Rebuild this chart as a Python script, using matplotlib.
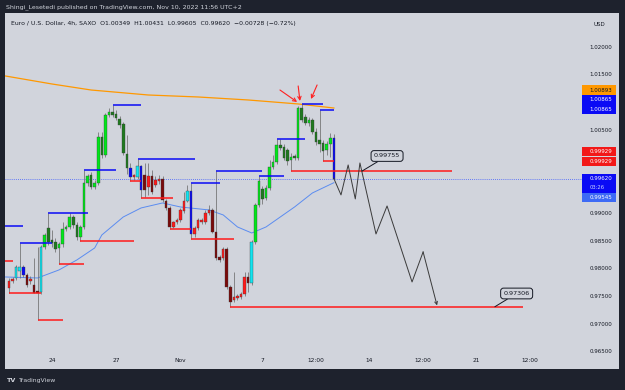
import numpy as np
import matplotlib
matplotlib.use("Agg")
import matplotlib.pyplot as plt
from matplotlib.patches import Rectangle

W, H = 625, 390
DARK = "#1e222d"
PANEL = "#d1d4dc"
INK = "#131722"

# EUR/USD 4h candles (SAXO), oldest first
opens = [0.97645, 0.97771, 0.97825, 0.97952, 0.98024, 0.97880, 0.97771, 0.97699, 0.97591, 0.97573,
         0.98385, 0.98728, 0.98511, 0.98475, 0.98367, 0.98439, 0.98710, 0.98746, 0.98926, 0.98782,
         0.98565, 0.98746, 0.99540, 0.99684, 0.99468, 0.99540, 1.00370, 1.00045, 1.00767, 1.00821,
         1.00785, 1.00695, 1.00605, 1.00063, 0.99811, 0.99648, 0.99648, 0.99847, 0.99684, 0.99468,
         0.99666, 0.99504, 0.99576, 0.99612, 0.99215, 0.99089, 0.98746, 0.98836, 0.98872, 0.99035,
         0.99215, 0.99396, 0.98619, 0.98728, 0.98836, 0.98836, 0.98999, 0.99053, 0.98655, 0.98204,
         0.98186, 0.98349, 0.97663, 0.97428, 0.97465, 0.97483, 0.97537, 0.97843, 0.97735, 0.98475,
         0.99143, 0.99432, 0.99270, 0.99450, 0.99829, 0.99919, 1.00226, 1.00190, 1.00136, 0.99955,
         1.00027, 0.99991, 1.00893, 1.00731, 1.00623, 1.00677, 1.00460, 1.00316, 1.00262, 1.00136,
         1.00244, 1.00349]
highs = [0.97825, 0.97843, 0.98060, 0.98457, 0.98060, 0.97916, 0.97862, 0.98186, 0.98385, 0.98421,
         0.98637, 0.98999, 0.98692, 0.98547, 0.98475, 0.98836, 0.98782, 0.98999, 0.98963, 0.98836,
         0.98782, 0.99775, 0.99703, 0.99739, 0.99594, 1.00460, 1.00460, 1.00803, 1.00893, 1.00948,
         1.00857, 1.00749, 1.00641, 1.00406, 0.99901, 0.99703, 0.99973, 0.99865, 0.99901, 0.99901,
         0.99775, 0.99666, 0.99684, 0.99666, 0.99252, 0.99125, 0.98854, 0.98908, 0.99089, 0.99378,
         0.99504, 0.99540, 0.98764, 0.98908, 0.98908, 0.99053, 0.99143, 0.99089, 0.99757, 0.98240,
         0.98385, 0.98385, 0.97699, 0.97934, 0.97537, 0.97573, 0.97934, 0.97934, 0.98511, 0.99179,
         0.99666, 0.99486, 0.99504, 0.99955, 1.00045, 1.00334, 1.00334, 1.00244, 1.00172, 1.00081,
         1.00063, 1.00930, 1.00966, 1.00785, 1.00731, 1.00713, 1.00532, 1.00865, 1.00316, 1.00298,
         1.00442, 1.00431]
lows = [0.97555, 0.97735, 0.97789, 0.97825, 0.97843, 0.97663, 0.97717, 0.97555, 0.97067, 0.97537,
        0.98349, 0.98421, 0.98385, 0.98295, 0.98078, 0.98385, 0.98673, 0.98710, 0.98728, 0.98511,
        0.98493, 0.98710, 0.99486, 0.99432, 0.99432, 0.99504, 0.99991, 1.00009, 1.00731, 1.00731,
        1.00677, 1.00532, 1.00045, 0.99703, 0.99576, 0.99594, 0.99612, 0.99270, 0.99288, 0.99324,
        0.99342, 0.99468, 0.99522, 0.99197, 0.99053, 0.98710, 0.98728, 0.98800, 0.98836, 0.98999,
        0.99197, 0.98529, 0.98565, 0.98692, 0.98800, 0.98800, 0.98963, 0.98637, 0.98150, 0.98114,
        0.98150, 0.97627, 0.97306, 0.97392, 0.97428, 0.97446, 0.97501, 0.97573, 0.97699, 0.98439,
        0.99107, 0.99161, 0.99233, 0.99414, 0.99793, 0.99883, 1.00136, 0.99955, 0.99865, 0.99755,
        0.99955, 0.99955, 1.00641, 1.00587, 1.00569, 1.00424, 1.00226, 1.00100, 0.99929, 1.00045,
        1.00009, 0.99605]
closes = [0.97771, 0.97807, 0.98024, 0.98024, 0.97880, 0.97699, 0.97807, 0.97555, 0.97555, 0.98385,
          0.98601, 0.98475, 0.98457, 0.98349, 0.98439, 0.98710, 0.98746, 0.98926, 0.98782, 0.98565,
          0.98746, 0.99540, 0.99666, 0.99468, 0.99540, 1.00370, 1.00045, 1.00767, 1.00821, 1.00767,
          1.00713, 1.00587, 1.00081, 0.99811, 0.99648, 0.99684, 0.99847, 0.99414, 0.99414, 0.99666,
          0.99378, 0.99594, 0.99612, 0.99233, 0.99089, 0.98746, 0.98836, 0.98872, 0.99053, 0.99215,
          0.99396, 0.98619, 0.98728, 0.98872, 0.98872, 0.98999, 0.99053, 0.98655, 0.98186, 0.98150,
          0.98349, 0.97663, 0.97392, 0.97483, 0.97501, 0.97537, 0.97843, 0.97735, 0.98475, 0.99143,
          0.99576, 0.99252, 0.99450, 0.99829, 0.99919, 1.00226, 1.00172, 0.99991, 0.99937, 1.00009,
          0.99991, 1.00893, 1.00677, 1.00623, 1.00677, 1.00460, 1.00280, 1.00244, 1.00118, 1.00244,
          1.00349, 0.99620]
# candle colouring state: u = uptrend, d = downtrend, n = neutral
trend = "ddnnnddddn" + "u" * 24 + "ndnn" + "d" * 12 + "nn" + "d" * 16 + "n" + "u" * 22 + "n"

# moving averages, sampled along the line (bar position, price)
ma_slow_x = [-1, 12, 23, 39, 53, 67, 81, 91]
ma_slow = [1.01471, 1.01327, 1.01218, 1.01128, 1.01092, 1.01038, 1.00966, 1.00893]
ma_fast_x = [-1, 8, 14, 19, 24, 26, 32, 37, 43, 48, 56, 60, 64, 68, 72, 80, 85, 91]
ma_fast = [0.97843, 0.97825, 0.97970, 0.98150, 0.98367, 0.98601, 0.98926, 0.99089, 0.99179,
           0.99107, 0.99053, 0.98963, 0.98746, 0.98637, 0.98746, 0.99107, 0.99360, 0.99545]

# swing high / low levels (start bar, end bar, price)
hi_start = [-1, 3, 11, 21, 29, 36, 51, 58, 70, 75, 82, 87]
hi_end = [4, 12, 22, 30, 37, 52, 59, 71, 77, 83, 88, 91]
hi_price = [0.98764, 0.98457, 0.98999, 0.99775, 1.00948, 0.99973, 0.99540, 0.99757,
            0.99666, 1.00334, 1.00966, 1.00865]
lo_start = [-1, 0, 8, 14, 20, 34, 37, 45, 51, 62, 79, 88]
lo_end = [1, 9, 15, 21, 35, 37, 46, 51, 63, 144, 124, 91]
lo_price = [0.98132, 0.97555, 0.97067, 0.98078, 0.98493, 0.99576, 0.99270, 0.98710,
            0.98529, 0.97306, 0.99755, 0.99929]

# hand-drawn projection path
path_x = [91, 93, 95, 97, 98.3, 102.8, 105.9, 112.9, 116, 119.9]
path_y = [0.99620, 0.99324, 0.99865, 0.99252, 0.99901, 0.98619, 0.99125, 0.97753, 0.98295, 0.97330]
callout_text = ["0.99755", "0.97306"]
callout_at = [(98.9, 0.99755), (136.1, 0.97306)]
callout_box = [(105.9, 1.00027), (142.2, 0.97545)]
arrow_from = [(75.9, 1.01218), (81.0, 1.01291), (86.3, 1.01309)]
arrow_to = [(80.7, 1.01002), (81.5, 1.01020), (84.6, 1.01056)]

tick_pos = [12, 30, 48, 71, 86, 101, 116, 131, 146]
tick_lbl = ["24", "27", "Nov", "7", "12:00", "14", "12:00", "21", "12:00"]
# price scale marks that are not hidden behind a tag
price_ticks = [0.965, 0.97, 0.975, 0.98, 0.985, 0.99, 1.005, 1.015, 1.02]

last_price = closes[-1]

fig = plt.figure(figsize=(W / 100, H / 100), dpi=100, facecolor=DARK)
ax = fig.add_axes([5 / W, (H - 369) / H, 614 / W, 356 / H], facecolor=PANEL)
ax.set_xlim(-1.12, 170.87)
ax.set_ylim(0.96182, 1.02608)
for s in ax.spines.values():
    s.set_visible(False)

# candles
x = np.arange(len(opens))
o, h, l, c = map(np.array, (opens, highs, lows, closes))
colors = {("u", True): "#00e61a", ("u", False): "#1f7a1f",
          ("d", True): "#ff1a1a", ("d", False): "#7a0a0a",
          ("n", True): "#12e4f0", ("n", False): "#0a0af5"}
cols = [colors[(t, cc >= oo)] for t, oo, cc in zip(trend, o, c)]
ax.vlines(x, l, h, color="#6f6f6f", lw=0.55, zorder=3)
body = np.maximum(np.abs(c - o), 0.00003)
ax.bar(x, body, bottom=np.minimum(o, c), width=0.72, color=cols,
       edgecolor="#3a3a3a", linewidth=0.25, zorder=4)

# moving averages
ax.plot(ma_slow_x, ma_slow, color="#ff9800", lw=0.9, zorder=2)
ax.plot(ma_fast_x, ma_fast, color="#5b8cf0", lw=0.7, zorder=2)

# swing levels
ax.hlines(hi_price, hi_start, hi_end, color="#0a0af5", lw=1.1, zorder=5)
ax.hlines(lo_price, lo_start, lo_end, color="#ff1a1a", lw=1.1, zorder=5)

# current price dotted line
ax.axhline(last_price, xmax=(582 - 5) / 614, color="#3d5afe", lw=0.6, ls=(0, (1, 1.5)), zorder=1)

# projection zigzag with arrow
ax.plot(path_x[:-1], path_y[:-1], color="#3a3a3a", lw=0.7, zorder=6)
ax.annotate("", xy=(path_x[-1], path_y[-1]), xytext=(path_x[-2], path_y[-2]),
            arrowprops=dict(arrowstyle="->", color="#3a3a3a", lw=0.7,
                            shrinkA=0, shrinkB=0, mutation_scale=5), zorder=6)
for txt, at, box in zip(callout_text, callout_at, callout_box):
    ax.annotate(txt, xy=at, xytext=box, ha="center", va="center", fontsize=4.6, color=INK,
                bbox=dict(boxstyle="round,pad=0.45", fc=PANEL, ec=INK, lw=0.7),
                arrowprops=dict(arrowstyle="-", color=INK, lw=0.7, shrinkA=0, shrinkB=0),
                zorder=7)
for a, b in zip(arrow_from, arrow_to):
    ax.annotate("", xy=b, xytext=a,
                arrowprops=dict(arrowstyle="->", color="#ff2020", lw=0.8,
                                shrinkA=0, shrinkB=0, mutation_scale=6), zorder=7)

# axes labels inside the panel
ax.set_xticks(tick_pos)
ax.set_xticklabels(tick_lbl)
ax.tick_params(axis="x", length=0, pad=-7.6, labelsize=4.2, labelcolor=INK)
ax.yaxis.tick_right()
ax.set_yticks(price_ticks)
ax.set_yticklabels(["%.5f" % p for p in price_ticks])
ax.tick_params(axis="y", length=0, pad=-5.0, labelsize=4.0, labelcolor=INK)
for t in ax.get_yticklabels():
    t.set_horizontalalignment("right")

# overlay in pixel coordinates for the chrome
ov = fig.add_axes([0, 0, 1, 1], facecolor="none")
ov.set_xlim(0, W)
ov.set_ylim(H, 0)
ov.axis("off")


def px(p):
    return H - ax.transData.transform((0, p))[1]


# price scale tags: value, face, text colour, stacked position in px
tags = [("1.00893", "#ff9800", INK, px(1.00893) - 18),
        ("1.00865", "#0a0af5", "white", px(1.00865) - 9.6),
        ("1.00865", "#0a0af5", "white", px(1.00865)),
        ("0.99929", "#f21818", "white", px(0.99929) - 10),
        ("0.99929", "#f21818", "white", px(0.99929)),
        ("0.99545", "#3d6af5", "white", px(0.99545) + 15)]
for val, fc, tc, yc in tags:
    ov.add_patch(Rectangle((582, yc - 4.8), 34, 9.6, fc=fc, ec="none", zorder=10))
    ov.text(612, yc, val, ha="right", va="center", fontsize=4.0, color=tc, zorder=11)
yc = px(last_price)
ov.add_patch(Rectangle((582, yc - 5), 34, 19.5, fc="#0a0af5", ec="none", zorder=10))
ov.text(612, yc - 0.3, "%.5f" % last_price, ha="right", va="center", fontsize=4.0, color="white", zorder=11)
ov.text(605, yc + 9.0, "03:26", ha="right", va="center", fontsize=3.8, color="#c8d0ff", zorder=11)

ov.text(6, 7, "Shingi_Lesetedi published on TradingView.com, Nov 10, 2022 11:56 UTC+2",
        ha="left", va="center", fontsize=4.5, color=PANEL)
ov.text(11, 24, "Euro / U.S. Dollar, 4h, SAXO  O1.00349  H1.00431  L0.99605  C0.99620  \u22120.00728 (\u22120.72%)",
        ha="left", va="center", fontsize=4.4, color=INK)
ov.text(593, 24, "USD", ha="left", va="center", fontsize=4.0, color=INK)
ov.text(7, 380.5, "TV", ha="left", va="center", fontsize=4.6, color=PANEL, fontweight="bold")
ov.text(19, 380.5, "TradingView", ha="left", va="center", fontsize=4.4, color=PANEL)

fig.savefig("out.png", dpi=100, facecolor=DARK)
